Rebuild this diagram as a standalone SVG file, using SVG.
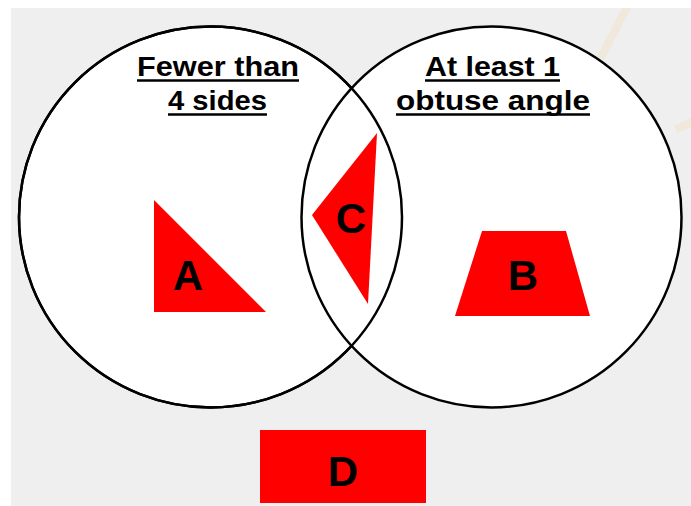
<svg xmlns="http://www.w3.org/2000/svg" width="691" height="506" viewBox="0 0 691 506">
  <style>
    .ring { fill: #ffffff; stroke: #000000; stroke-width: 2.5; }
    .outline { fill: none; stroke: #000000; stroke-width: 2.5; }
    .shape { fill: #ff0000; }
    .head { font-family: "Liberation Sans", Arial, sans-serif; font-weight: bold; font-size: 28px; fill: #000000; text-anchor: middle; }
    .ul { stroke: #000000; stroke-width: 2.5; }
    .letter { font-family: "Liberation Sans", Arial, sans-serif; font-weight: bold; font-size: 42px; fill: #000000; text-anchor: middle; }
  </style>
  <rect x="0" y="0" width="691" height="506" fill="#ffffff"/>
  <rect x="11" y="8" width="680" height="498" fill="#efefef"/>
  <g id="watermark" opacity="0.3">
    <path d="M622,8 L631,8 L604,60 L597,56 Z" fill="#f2d9b0"/>
    <path d="M674,126 L691,118 L691,127 L677,133 Z" fill="#f2d9b0"/>
  </g>
  <g id="set-left">
    <ellipse class="ring" cx="210.5" cy="217" rx="191.5" ry="190.5"/>
  </g>
  <g id="set-right">
    <ellipse class="ring" cx="491.5" cy="217" rx="190" ry="190.5"/>
  </g>
  <g id="outlines">
    <ellipse class="outline" cx="210.5" cy="217" rx="191.5" ry="190.5"/>
  </g>
  <g id="label-left">
    <text class="head" x="218" y="76" textLength="162" lengthAdjust="spacingAndGlyphs">Fewer than</text>
    <line class="ul" x1="137" y1="80.5" x2="299" y2="80.5"/>
    <text class="head" x="217.5" y="110" textLength="99" lengthAdjust="spacingAndGlyphs">4 sides</text>
    <line class="ul" x1="168" y1="114.5" x2="267" y2="114.5"/>
  </g>
  <g id="label-right">
    <text class="head" x="492.5" y="76" textLength="135" lengthAdjust="spacingAndGlyphs">At least 1</text>
    <line class="ul" x1="425" y1="80.5" x2="560" y2="80.5"/>
    <text class="head" x="493" y="110" textLength="194" lengthAdjust="spacingAndGlyphs">obtuse angle</text>
    <line class="ul" x1="396" y1="114.5" x2="590" y2="114.5"/>
  </g>
  <g id="node-A">
    <polygon class="shape" points="154,200 154,312 266,312"/>
    <text class="letter" x="188" y="290">A</text>
  </g>
  <g id="node-C">
    <polygon class="shape" points="377,133 312,215 368,304"/>
    <text class="letter" x="351" y="233">C</text>
  </g>
  <g id="node-B">
    <polygon class="shape" points="482,231 566,231 590,316 455,316"/>
    <text class="letter" x="523" y="290">B</text>
  </g>
  <g id="node-D">
    <rect class="shape" x="260" y="430" width="166" height="73"/>
    <text class="letter" x="343" y="486">D</text>
  </g>
</svg>
